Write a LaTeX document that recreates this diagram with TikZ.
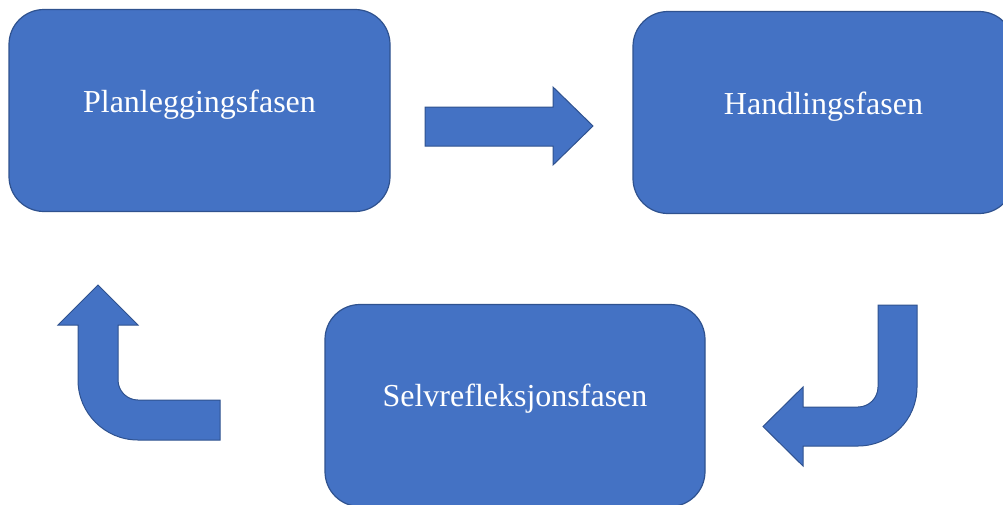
\documentclass[tikz,border=0pt]{standalone}
\usepackage{fontspec}
\setmainfont{Liberation Serif}
\usetikzlibrary{calc}
\definecolor{boxblue}{HTML}{4472C4}
\definecolor{edgeblue}{HTML}{2F528F}
\tikzset{
  phasebox/.style={draw=edgeblue, fill=boxblue, line width=1.2pt, rounded corners=35pt,
    minimum width=381pt, minimum height=202pt, inner sep=0pt},
  phaselbl/.style={text=white, font=\fontsize{32}{38}\selectfont, anchor=base, inner sep=0pt},
  blockarrow/.style={draw=edgeblue, fill=boxblue, line width=1pt, line join=miter}
}
\begin{document}
\begin{tikzpicture}[x=1pt,y=-1pt]
\useasboundingbox (0,0) rectangle (1003,504);
\clip (0,0) rectangle (1003,504);
% boxes
\node[phasebox] (plan) at (199.5,110.5) {};
\node[phasebox] (handling) at (823.5,112.5) {};
\node[phasebox, minimum width=380pt] (selv) at (515,405.5) {};
\node[phaselbl] (planlbl) at ($(plan.north)+(0,104)$) {Planleggingsfasen};
\node[phaselbl] (handlbl) at ($(handling.north)+(0,104)$) {Handlingsfasen};
\node[phaselbl] (selvlbl) at ($(selv.north)+(0,103)$) {Selvrefleksjonsfasen};
% right arrow
\draw[blockarrow] (425,107) -- (553,107) -- (553,87) -- (593,126) -- (553,165) -- (553,146) -- (425,146) -- cycle;
% down-left bent arrow
\draw[blockarrow] (878,305) -- (917,305) -- (917,387)
  .. controls (917,419.6) and (890.6,446) .. (858,446)
  -- (803,446) -- (803,466) -- (763,426.5) -- (803,387) -- (803,407) -- (858,407)
  .. controls (869,407) and (878,398) .. (878,387) -- cycle;
% up-left bent arrow
\draw[blockarrow] (220,400) -- (138,400)
  .. controls (127,400) and (118,391) .. (118,380)
  -- (118,325) -- (138,325) -- (98,285) -- (58,325) -- (78,325) -- (78,380)
  .. controls (78,413.1) and (104.9,440) .. (138,440) -- (220,440) -- cycle;
\end{tikzpicture}
\end{document}
